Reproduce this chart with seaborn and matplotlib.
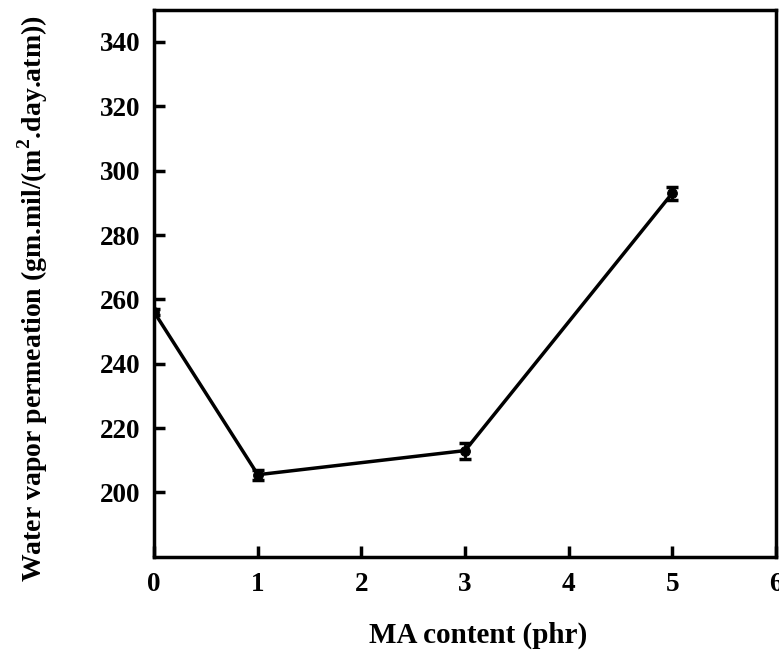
import matplotlib
matplotlib.use("Agg")
import matplotlib.pyplot as plt
import seaborn as sns
import pandas as pd

# MA content vs water vapor permeation
ma_content = [0, 1, 3, 5]
wvp = [256.0, 205.5, 213.0, 293.0]
wvp_err = [1.0, 1.5, 2.5, 2.0]

df = pd.DataFrame({"MA": ma_content, "WVP": wvp, "err": wvp_err})

sns.set_style("ticks")
plt.rcParams['font.family'] = ['Liberation Serif', 'DejaVu Serif']
plt.rcParams['font.weight'] = 'bold'
plt.rcParams['mathtext.fontset'] = 'custom'
plt.rcParams['mathtext.bf'] = 'Liberation Serif:bold'
plt.rcParams['mathtext.rm'] = 'Liberation Serif:bold'

fig = plt.figure(figsize=(7.79, 6.55), dpi=100)
ax = fig.add_axes([0.198, 0.150, 0.798, 0.835])

ax.errorbar(df["MA"], df["WVP"], yerr=df["err"], fmt="none", ecolor="black",
            elinewidth=2, capsize=4, capthick=2.5, zorder=3)
sns.lineplot(x="MA", y="WVP", data=df, color="black", linewidth=2.5,
             marker="o", markersize=7, markeredgecolor="black", ax=ax, zorder=4)

ax.set_xlim(0, 6)
ax.set_ylim(180, 350)
ax.set_xticks(range(0, 7))
ax.set_yticks(range(200, 341, 20))
ax.tick_params(direction="in", length=8, width=2.5, labelsize=19.5,
               color="black", labelcolor="black")
ax.tick_params(axis="y", pad=10)
ax.tick_params(axis="x", pad=11)
for lab in ax.get_xticklabels() + ax.get_yticklabels():
    lab.set_fontweight("bold")
for sp in ax.spines.values():
    sp.set_linewidth(2.5)
    sp.set_color("black")

ax.set_xlabel("MA content (phr)", fontsize=21, fontweight="bold", color="black")
ax.set_ylabel(r"Water vapor permeation (gm.mil/(m$^{\mathbf{2}}$.day.atm))",
              fontsize=20, fontweight="bold", color="black")
ax.xaxis.set_label_coords(0.521, -0.119)
ax.yaxis.set_label_coords(-0.167, 0.4726)

plt.savefig("out.png", dpi=100)
